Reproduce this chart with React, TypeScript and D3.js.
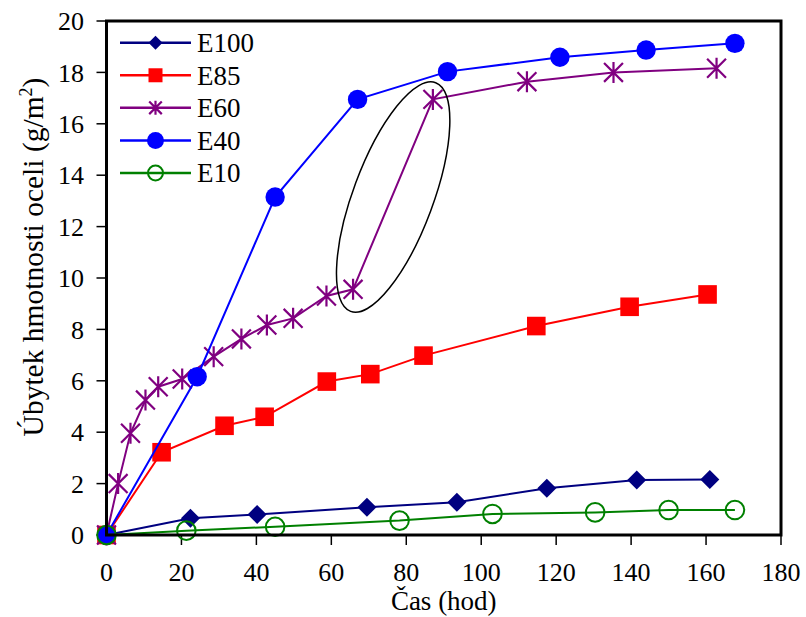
import React from "react";
import * as d3 from "d3";

const seriesNames = ["E100", "E85", "E60", "E40", "E10"];
const seriesColors = ["#000080", "#ff0000", "#800080", "#0000ff", "#008000"];
const seriesMarkers = ["diamond", "square", "star", "circle", "ring"];

const e100Time = [0, 22.4, 40.2, 69.5, 93.5, 117.5, 141.5, 161];
const e100Loss = [0, 0.65, 0.8, 1.08, 1.27, 1.82, 2.14, 2.16];

const e85Time = [0, 14.7, 31.5, 42.2, 58.8, 70.4, 84.6, 114.7, 139.6, 160.4];
const e85Loss = [0, 3.22, 4.25, 4.6, 5.97, 6.26, 6.98, 8.13, 8.88, 9.36];

const e60Time = [0, 3.1, 6.4, 10.4, 13.8, 20.2, 28.6, 36, 42.8, 49.8, 58.7, 65.8, 87.1, 112.2, 135.3, 162.8];
const e60Loss = [0, 2.0, 3.96, 5.25, 5.77, 6.07, 6.94, 7.63, 8.17, 8.43, 9.3, 9.56, 16.95, 17.64, 18.0, 18.16];

const e40Time = [0, 24.2, 45, 67, 91, 121, 144, 167.7];
const e40Loss = [0, 6.16, 13.15, 16.95, 18.03, 18.59, 18.87, 19.13];

const e10Time = [0, 21.3, 45, 78.2, 103, 130.4, 150, 167.7];
const e10Loss = [0, 0.17, 0.32, 0.56, 0.82, 0.88, 0.97, 0.97];

const xTicks = [0, 20, 40, 60, 80, 100, 120, 140, 160, 180];
const yTicks = [0, 2, 4, 6, 8, 10, 12, 14, 16, 18, 20];

const highlightCenter = [76.5, 13.15];

const times = [e100Time, e85Time, e60Time, e40Time, e10Time];
const losses = [e100Loss, e85Loss, e60Loss, e40Loss, e10Loss];

const W = 806;
const H = 617;
const SERIF = "Liberation Serif";

function Marker({ type, color, s }: { type: string; color: string; s: number }) {
  if (type === "diamond") {
    return <path d={`M0,${-s}L${s},0L0,${s}L${-s},0Z`} fill={color} />;
  }
  if (type === "square") {
    return <rect x={-s} y={-s} width={2 * s} height={2 * s} fill={color} />;
  }
  if (type === "circle") {
    return <circle r={s} fill={color} />;
  }
  if (type === "ring") {
    return <circle r={s} fill="none" stroke={color} strokeWidth={2} />;
  }
  const k = s * 0.9;
  return (
    <path
      d={`M${-k},${-k}L${k},${k}M${-k},${k}L${k},${-k}M0,${-s}L0,${s}`}
      stroke={color}
      strokeWidth={2.2}
      fill="none"
    />
  );
}

const plotSizes: Record<string, number> = { diamond: 9.5, square: 9.3, circle: 9.7, ring: 9.3, star: 10.5 };
const legendSizes: Record<string, number> = { diamond: 7, square: 7, circle: 8.5, ring: 7.5, star: 7 };

function T(props: any) {
  const { children, size, ...rest } = props;
  return (
    <text {...rest} fontFamily={SERIF} style={{ fontFamily: SERIF, fontSize: size + "px" }} fill="#000">
      {children}
    </text>
  );
}

export default function App() {
  const x = d3.scaleLinear().domain([0, 180]).range([106.5, 781]);
  const y = d3.scaleLinear().domain([0, 20]).range([535, 21]);
  const line = d3
    .line<[number, number]>()
    .x((d) => x(d[0]))
    .y((d) => y(d[1]));

  const legendY = d3.scaleLinear().domain([0, 4]).range([42.7, 173]);

  return (
    <svg width={W} height={H} style={{ position: "absolute", left: 0, top: 0, background: "#fff", fontFamily: SERIF }}>
      <rect x={0} y={0} width={W} height={H} fill="#fff" />
      {yTicks.map((t) => (
        <g key={"y" + t}>
          <line x1={x(0) - 10} x2={x(0)} y1={y(t)} y2={y(t)} stroke="#000" strokeWidth={1.5} />
          <T x={84} y={y(t)} dy="0.35em" textAnchor="end" size={26}>
            {t}
          </T>
        </g>
      ))}
      {xTicks.map((t) => (
        <g key={"x" + t}>
          <line x1={x(t)} x2={x(t)} y1={y(0)} y2={y(0) + 10} stroke="#000" strokeWidth={1.5} />
          <T x={x(t)} y={581} textAnchor="middle" size={26}>
            {t}
          </T>
        </g>
      ))}

      {seriesNames.map((name, i) => {
        const pts: [number, number][] = times[i].map((t, j) => [t, losses[i][j]]);
        return (
          <g key={name}>
            <path d={line(pts) || ""} fill="none" stroke={seriesColors[i]} strokeWidth={2} />
            {pts.map((p, j) => (
              <g key={j} transform={`translate(${x(p[0])},${y(p[1])})`}>
                <Marker type={seriesMarkers[i]} color={seriesColors[i]} s={plotSizes[seriesMarkers[i]]} />
              </g>
            ))}
          </g>
        );
      })}

      <ellipse
        cx={0}
        cy={0}
        rx={122}
        ry={40}
        transform={`translate(${x(highlightCenter[0])},${y(highlightCenter[1])}) rotate(-69.6)`}
        fill="none"
        stroke="#000"
        strokeWidth={1.5}
      />

      <rect
        x={x(0)}
        y={y(20)}
        width={x(180) - x(0)}
        height={y(0) - y(20)}
        fill="none"
        stroke="#000"
        strokeWidth={3}
      />

      {seriesNames.map((name, i) => {
        const ly = legendY(i);
        return (
          <g key={"lg" + name}>
            <line x1={120} x2={191} y1={ly} y2={ly} stroke={seriesColors[i]} strokeWidth={2.5} />
            <g transform={`translate(155.5,${ly})`}>
              <Marker type={seriesMarkers[i]} color={seriesColors[i]} s={legendSizes[seriesMarkers[i]]} />
            </g>
            <T x={197} y={ly} dy="0.35em" size={27}>
              {name}
            </T>
          </g>
        );
      })}

      <T x={x(90)} y={610} textAnchor="middle" size={27}>
        Čas (hod)
      </T>
      <T transform={`translate(43,257) rotate(-90)`} textAnchor="middle" size={29.5}>
        Úbytek hmotnosti oceli (g/m
        <tspan style={{ fontSize: "18px" }} dy={-11}>
          2
        </tspan>
        <tspan dy={11}>)</tspan>
      </T>
    </svg>
  );
}
